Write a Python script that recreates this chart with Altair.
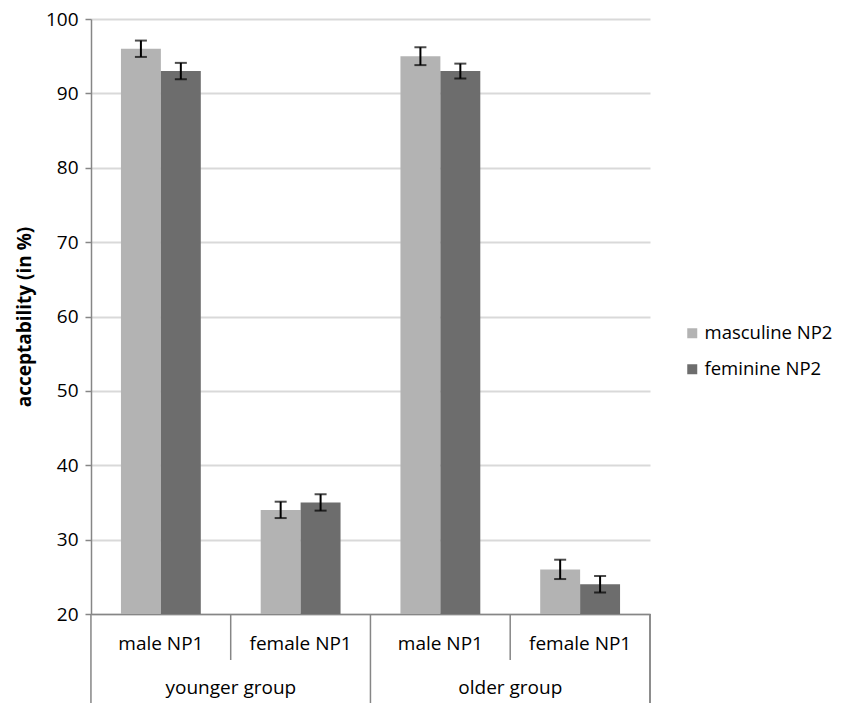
import altair as alt
import pandas as pd

# ---- data ----
groups = ["younger group", "younger group", "older group", "older group"]
np1 = ["male NP1", "female NP1", "male NP1", "female NP1"]
series = ["masculine NP2", "feminine NP2"]
masc_vals = [96, 34, 95, 26]
fem_vals = [93, 35, 93, 24]
masc_err = [1.1, 1.1, 1.2, 1.3]
fem_err = [1.1, 1.1, 1.0, 1.1]
group_names = ["younger group", "older group"]
y_ticks = [20, 30, 40, 50, 60, 70, 80, 90, 100]

# ---- styling ----
colors = ["#b3b3b3", "#6d6d6d"]
AXIS_COL = "#868686"
GRID_COL = "#d9d9d9"
FONT = "Open Sans"
FS = 19
TOP = 11
W, H = 559, 595
BOTTOM = 89

cats = [f"{g}|{n}" for g, n in zip(groups, np1)]
rows = []
for i, c in enumerate(cats):
    for s, vals, errs in [(series[0], masc_vals, masc_err), (series[1], fem_vals, fem_err)]:
        rows.append({"cat": c, "series": s, "value": vals[i],
                     "lo": vals[i] - errs[i], "hi": vals[i] + errs[i]})
df = pd.DataFrame(rows)

first_in_group = [g != (groups[i - 1] if i > 0 else None) for i, g in enumerate(groups)]
sep_df = pd.DataFrame({"cat": cats, "first": first_in_group})
grp_df = pd.DataFrame({"cat": [cats[i] for i, f in enumerate(first_in_group) if f],
                       "label": group_names})

xscale = alt.Scale(domain=cats, paddingInner=0.4286, paddingOuter=0.2143)
yscale = alt.Scale(domain=[20, 100], nice=False, zero=False)
xoff = alt.XOffset("series:N", scale=alt.Scale(domain=series), sort=series)
YT = "acceptability (in %)"

base = alt.Chart(df)

bars = base.mark_bar().encode(
    x=alt.X("cat:N", scale=xscale, sort=cats, title=None,
            axis=alt.Axis(labelExpr="split(datum.label, '|')[1]", ticks=False, tickSize=0,
                          domain=True, domainColor=AXIS_COL, domainWidth=1.5,
                          labelAngle=0, labelFont=FONT, labelFontSize=FS, labelColor="black",
                          labelBaseline="middle", labelPadding=29, grid=False)),
    xOffset=xoff,
    y=alt.Y("value:Q", scale=yscale, title=YT,
            axis=alt.Axis(values=y_ticks, grid=True, gridColor=GRID_COL, gridWidth=2,
                          domainColor=AXIS_COL, domainWidth=1.5, tickColor=AXIS_COL,
                          tickSize=6, tickWidth=1.5, labelFont=FONT, labelFontSize=FS,
                          labelColor="black", labelPadding=7, titleFont=FONT,
                          titleFontSize=FS, titleFontWeight="bold", titleColor="black",
                          titlePadding=11)),
    y2=alt.datum(20),
    color=alt.Color("series:N", scale=alt.Scale(domain=series, range=colors), sort=series,
                    legend=alt.Legend(title=None, orient="none", legendX=592,
                                      legendY=308 - (TOP - 8),
                                      symbolType="square", symbolSize=100,
                                      symbolStrokeWidth=0, labelFont=FONT,
                                      labelFontSize=18.5, labelColor="black",
                                      labelOffset=3, rowPadding=17, padding=0)),
)

err_rule = base.mark_rule(color="black", strokeWidth=2).encode(
    x=alt.X("cat:N", scale=xscale, sort=cats, title=None),
    xOffset=xoff,
    y=alt.Y("lo:Q", scale=yscale, title=YT),
    y2="hi:Q",
)
cap_lo = base.mark_tick(color="black", thickness=2, size=12, orient="horizontal").encode(
    x=alt.X("cat:N", scale=xscale, sort=cats, title=None),
    xOffset=xoff,
    y=alt.Y("lo:Q", scale=yscale, title=YT),
)
cap_hi = base.mark_tick(color="black", thickness=2, size=12, orient="horizontal").encode(
    x=alt.X("cat:N", scale=xscale, sort=cats, title=None),
    xOffset=xoff,
    y=alt.Y("hi:Q", scale=yscale, title=YT),
)

short_sep = alt.Chart(sep_df).transform_filter("!datum.first").mark_rule(
    color=AXIS_COL, strokeWidth=1.5, xOffset=-30).encode(
    x=alt.X("cat:N", scale=xscale, sort=cats, bandPosition=0, title=None),
    y=alt.value(H), y2=alt.value(H + 46))
long_sep = alt.Chart(sep_df).transform_filter("datum.first").mark_rule(
    color=AXIS_COL, strokeWidth=1.5, xOffset=-30).encode(
    x=alt.X("cat:N", scale=xscale, sort=cats, bandPosition=0, title=None),
    y=alt.value(H), y2=alt.value(H + BOTTOM))
right_edge = alt.Chart(sep_df).transform_filter("datum.first").mark_rule(
    color=AXIS_COL, strokeWidth=1.5).encode(
    x=alt.value(W), y=alt.value(H), y2=alt.value(H + BOTTOM))

grp_text = alt.Chart(grp_df).mark_text(font=FONT, fontSize=FS, baseline="middle",
                                       align="center", color="black", xOffset=30).encode(
    x=alt.X("cat:N", scale=xscale, sort=cats, bandPosition=1, title=None),
    y=alt.value(H + 74),
    text="label:N",
)

chart = alt.layer(bars, err_rule, cap_lo, cap_hi, short_sep, long_sep, right_edge, grp_text).properties(
    width=W, height=H,
    autosize=alt.AutoSizeParams(type="none"),
    padding={"left": 83, "top": TOP, "right": 186, "bottom": BOTTOM},
).configure_view(strokeWidth=0)

chart.save("out.html", embed_options={"renderer": "svg", "actions": False})
